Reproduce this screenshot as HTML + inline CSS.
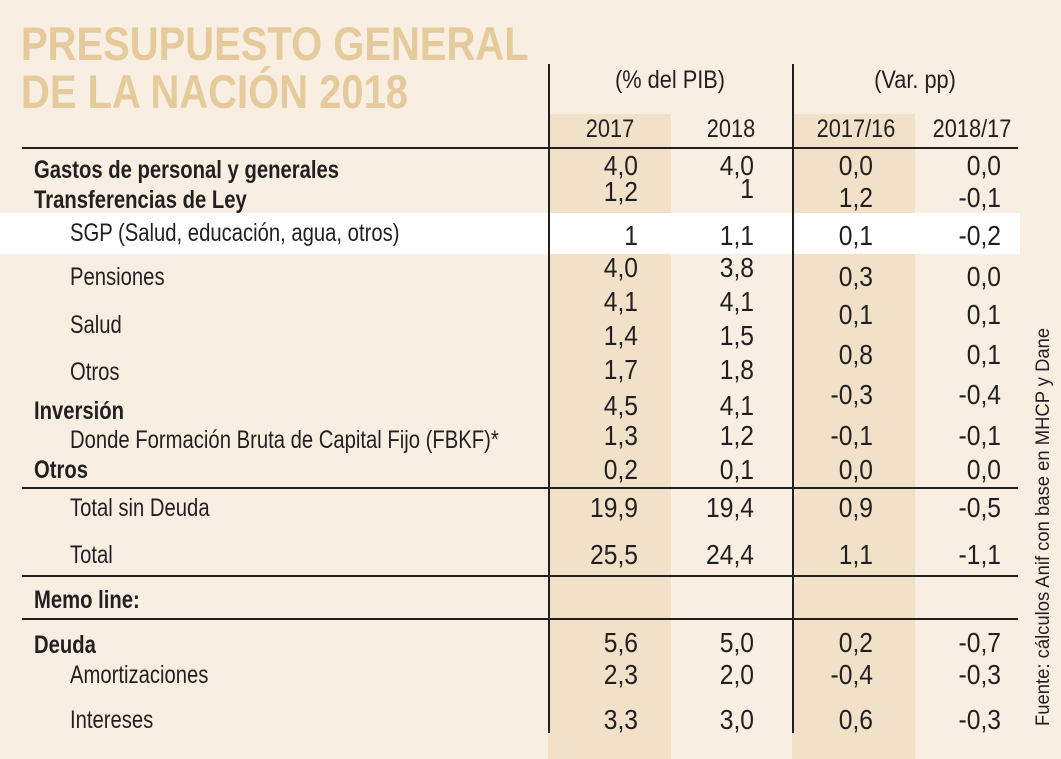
<!DOCTYPE html>
<html><head><meta charset="utf-8">
<style>
html,body{margin:0;padding:0}
body{width:1061px;height:759px;position:relative;background:#f8efe2;overflow:hidden;font-family:"Liberation Sans",sans-serif;color:#231f20}
.a{position:absolute;white-space:nowrap}
.t{font-size:25px;line-height:30px;transform:scaleX(.81);transform-origin:left center}
.r{font-size:28px;line-height:30px;transform:scaleX(.88);transform-origin:right center;text-align:right;width:120px}
.c{font-size:25px;line-height:30px;transform:scaleX(.87);transform-origin:center center;text-align:center;width:160px}
.b{font-weight:bold}
.title{color:#e5cb9c;font-weight:bold;font-size:47px;line-height:50px;transform:scaleX(.85);transform-origin:left center}
.hl{position:absolute;height:2px;background:#231f20}
.vl{position:absolute;width:2px;background:#231f20}
.shade{position:absolute;background:#f1e1c9}
</style></head>
<body>
<div class="shade" style="left:548px;top:114px;width:123px;height:645px"></div>
<div class="shade" style="left:792px;top:114px;width:123px;height:645px"></div>
<div class="a" style="left:0;top:213px;width:1020px;height:41px;background:#fff"></div>

<div class="a title" style="left:21px;top:19px">PRESUPUESTO GENERAL</div>
<div class="a title" style="left:21px;top:67px">DE LA NACIÓN 2018</div>

<div class="vl" style="left:548px;top:64px;height:669px"></div>
<div class="vl" style="left:792px;top:64px;height:669px"></div>
<div class="hl" style="left:22px;top:147px;width:996px"></div>
<div class="hl" style="left:22px;top:487px;width:996px"></div>
<div class="hl" style="left:22px;top:575px;width:996px"></div>
<div class="hl" style="left:22px;top:618px;width:996px"></div>

<div class="a c" style="left:590px;top:65px">(% del PIB)</div>
<div class="a c" style="left:835px;top:65px">(Var. pp)</div>
<div class="a c" style="left:530px;top:114px">2017</div>
<div class="a c" style="left:651px;top:114px">2018</div>
<div class="a c" style="left:776px;top:114px">2017/16</div>
<div class="a c" style="left:892px;top:114px">2018/17</div>

<div class="a" style="left:1033px;top:726px;font-size:19px;line-height:22px;transform:rotate(-90deg) scaleX(.97);transform-origin:left top">Fuente: cálculos Anif con base en MHCP y Dane</div>

<div id="rows"></div>
<script>
const labels=["Gastos de personal y generales","Transferencias de Ley","SGP (Salud, educación, agua, otros)","Pensiones","Salud","Otros","Inversión","Donde Formación Bruta de Capital Fijo (FBKF)*","Otros","Total sin Deuda","Total","Memo line:","Deuda","Amortizaciones","Intereses"];
const bold=[1,1,0,0,0,0,1,0,1,0,0,1,1,0,0];
const labelY=[170,200,233,277,325,372,411,440,470,508,555,600,645,675,720];
const v2017=["4,0","1,2","1","4,0","4,1","1,4","1,7","4,5","1,3","0,2","19,9","25,5","5,6","2,3","3,3"];
const v2018=["4,0","1","1,1","3,8","4,1","1,5","1,8","4,1","1,2","0,1","19,4","24,4","5,0","2,0","3,0"];
const y2017=[166,192,236,268,302,336,370,406,436,470,508,555,643,675,720];
const y2018=[166,189,236,268,302,336,370,406,436,470,508,555,643,675,720];
const var1716=["0,0","1,2","0,1","0,3","0,1","0,8","-0,3","-0,1","0,0","0,9","1,1","0,2","-0,4","0,6"];
const var1817=["0,0","-0,1","-0,2","0,0","0,1","0,1","-0,4","-0,1","0,0","-0,5","-1,1","-0,7","-0,3","-0,3"];
const yVar=[166,198,236,277,315,355,395,436,470,508,555,643,675,720];
const root=document.getElementById('rows');
function mk(txt,cls,x,y){const d=document.createElement('div');d.className='a '+cls;d.textContent=txt;d.style.left=x+'px';d.style.top=(y-15)+'px';root.appendChild(d);return d;}
labels.forEach((l,i)=>{
 const d=mk(l,'t'+(bold[i]?' b':''),bold[i]?34:70,labelY[i]);
 
 
});
v2017.forEach((v,i)=>{const d=mk(v,'r',518,y2017[i]);
 
 });
v2018.forEach((v,i)=>{const d=mk(v,'r',634,y2018[i]);
 
 });
var1716.forEach((v,i)=>{const d=mk(v,'r',753,yVar[i]);
 
 });
var1817.forEach((v,i)=>{const d=mk(v,'r',881,yVar[i]);
 
 });
</script>
</body></html>
